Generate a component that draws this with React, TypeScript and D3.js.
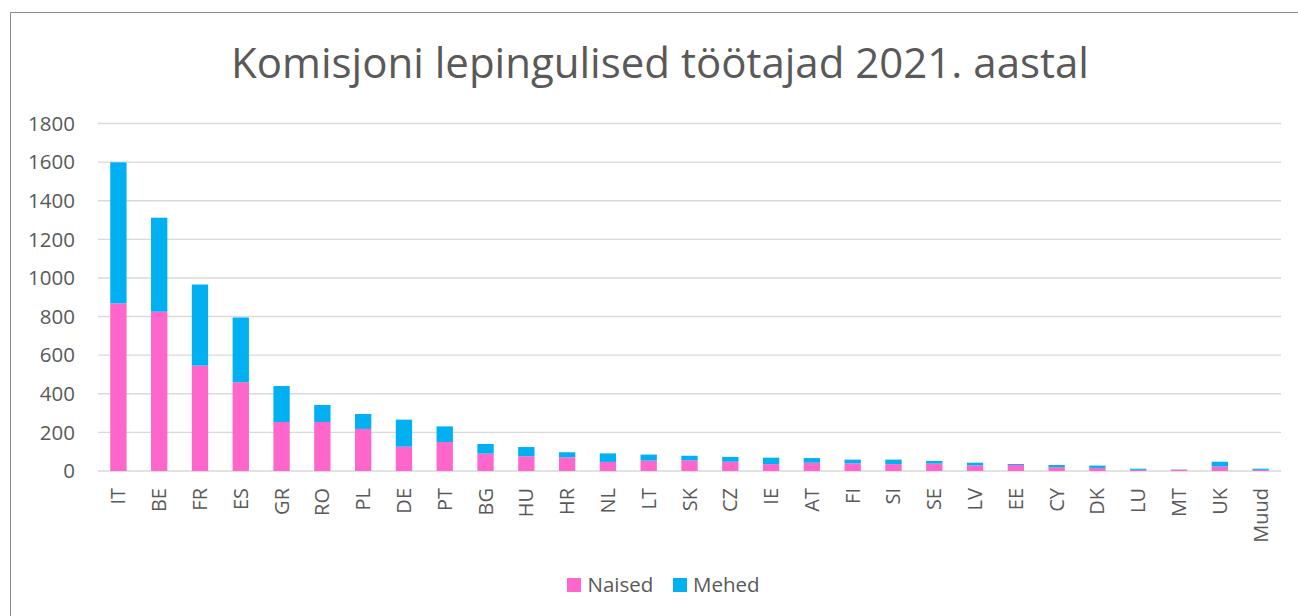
import React from "react";
import * as d3 from "d3";

const categories = ["IT","BE","FR","ES","GR","RO","PL","DE","PT","BG","HU","HR","NL","LT","SK","CZ","IE","AT","FI","SI","SE","LV","EE","CY","DK","LU","MT","UK","Muud"];
const naised = [868,825,546,460,254,254,218,126,150,90,76,71,47,54,55,48,36,43,40,36,38,29,31,20,16,6,7,23,6];
const mehed = [731,487,420,335,186,88,77,140,81,50,48,26,44,31,24,25,33,24,19,23,14,14,5,11,12,6,1,25,6];
const yTicks = [0,200,400,600,800,1000,1200,1400,1600,1800];
const seriesNames = ["Naised","Mehed"];
const seriesColors = ["#FF66CC","#00B0F0"];

const W = 1298, H = 616;
const FONT = "'Open Sans', 'DejaVu Sans', sans-serif";
const TXT = "#595959";

export default function App() {
  const x = d3.scaleBand<string>().domain(categories).range([98, 1281]).paddingInner(0.6).paddingOuter(0.3);
  const y = d3.scaleLinear().domain([0, 1800]).range([471, 123.5]);
  const rows = categories.map((c, i) => ({ c, Naised: naised[i], Mehed: mehed[i] }));
  const stacked = d3.stack<any>().keys(seriesNames)(rows);

  return (
    <svg width={W} height={H} style={{ position: "absolute", left: 0, top: 0, display: "block", background: "#fff" }} fontFamily={FONT}>
      <rect x={0} y={0} width={W} height={H} fill="#fff" />
      <line x1={10.5} x2={10.5} y1={12.5} y2={H} stroke="#8a8a8a" strokeWidth={1} />
      <line x1={10.5} x2={W} y1={12.5} y2={12.5} stroke="#8a8a8a" strokeWidth={1} />
      <text x={660} y={78} textAnchor="middle" fontSize={42} fill={TXT}>Komisjoni lepingulised töötajad 2021. aastal</text>
      {yTicks.map(t => (
        <g key={t}>
          <line x1={98} x2={1281} y1={y(t)} y2={y(t)} stroke="#d9d9d9" strokeWidth={1.4} />
          <text x={75} y={y(t)} dy="0.35em" textAnchor="end" fontSize={20.5} fill={TXT}>{t}</text>
        </g>
      ))}
      {stacked.map((s, si) => (
        <g key={s.key} fill={seriesColors[si]}>
          {s.map((d: any, i: number) => (
            <rect key={i} x={x(categories[i])} width={x.bandwidth()} y={y(d[1])} height={Math.max(0, y(d[0]) - y(d[1]))} />
          ))}
        </g>
      ))}
      {categories.map(c => {
        const cx = (x(c) as number) + x.bandwidth() / 2;
        return (
          <text key={c} transform={`translate(${cx},488) rotate(-90)`} dy="0.35em" textAnchor="end" fontSize={20} fill={TXT}>{c}</text>
        );
      })}
      <g>
        <rect x={567} y={578} width={14} height={14} fill={seriesColors[0]} />
        <text x={587.5} y={592} fontSize={20.5} fill={TXT}>{seriesNames[0]}</text>
        <rect x={673} y={578} width={14} height={14} fill={seriesColors[1]} />
        <text x={693} y={592} fontSize={20.5} fill={TXT}>{seriesNames[1]}</text>
      </g>
    </svg>
  );
}
